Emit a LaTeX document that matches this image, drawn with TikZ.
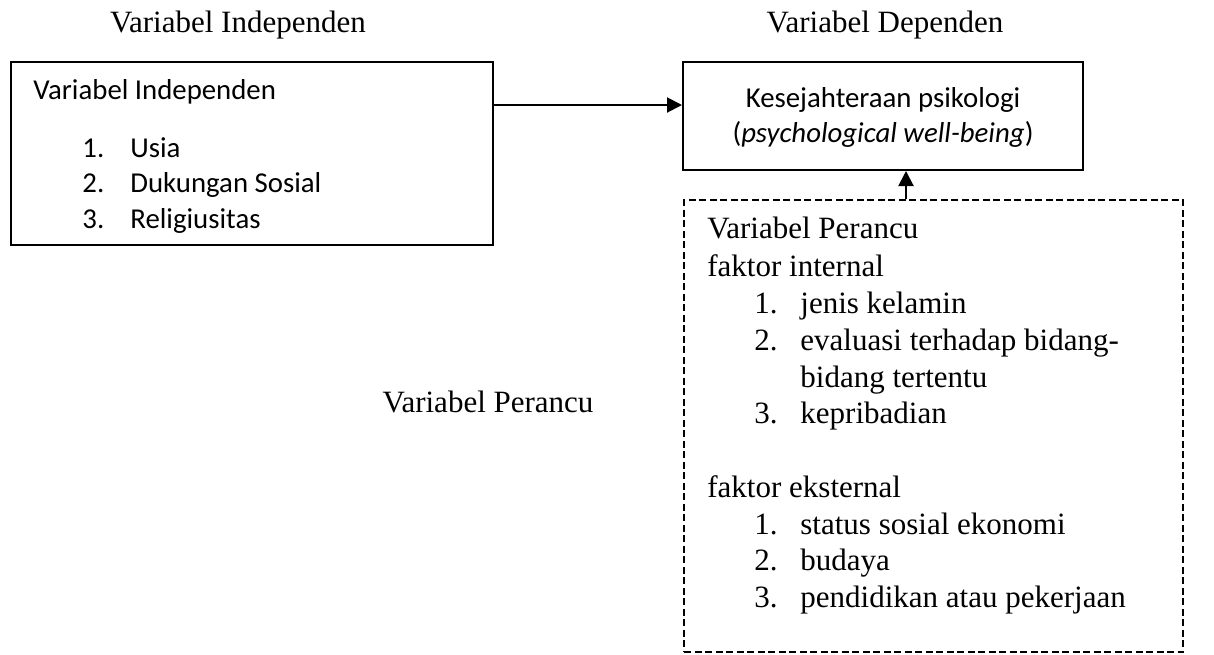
\documentclass[tikz,border=0pt]{standalone}
\usepackage{fontspec}
\setmainfont{Liberation Serif}
\newfontfamily\calibri{Carlito}
\usetikzlibrary{arrows.meta}

\tikzset{
  box/.style = {draw, line width = 1pt, inner sep = 0pt},
  dbox/.style = {draw, line width = 1pt, inner sep = 0pt, dash pattern = on 3.5pt off 1.75pt},
  serif/.style = {inner sep = 0pt, anchor = base west, font = \fontsize{15.5}{18.5}\selectfont},
  cal/.style = {inner sep = 0pt, anchor = base west, font = \calibri\fontsize{14.4}{18}\selectfont},
  link/.style = {line width = 1pt, -{Triangle[length = 7.5pt, width = 7.5pt]}}
}

\begin{document}
\begin{tikzpicture}[x = 0.5pt, y = -0.5pt]
\useasboundingbox (0, 0) rectangle (1214, 654);
% headings
\node (hind) at (238, 32) [serif, anchor = base] {Variabel Independen};
\node (hdep) at (885, 32) [serif, anchor = base] {Variabel Dependen};
\node (hper) at (488, 412) [serif, anchor = base] {Variabel Perancu};
% boxes
\node (indep) at (252, 153.5) [box, minimum width = 241pt, minimum height = 91.5pt] {};
\node (dep) at (883, 116) [box, minimum width = 200pt, minimum height = 54pt] {};
\node (per) at (933.5, 426) [dbox, minimum width = 249.5pt, minimum height = 226pt] {};
% independen
\node (ititle) at (33, 99) [cal] {Variabel Independen};
\node (i1) at (82, 157) [cal] {1.};
\node (i1t) at (130, 157) [cal] {Usia};
\node (i2) at (82, 192.5) [cal] {2.};
\node (i2t) at (130, 192.5) [cal] {Dukungan Sosial};
\node (i3) at (82, 228) [cal] {3.};
\node (i3t) at (130, 228) [cal] {Religiusitas};
% dependen
\node (d1) at (883, 107) [cal, anchor = base] {Kesejahteraan psikologi};
\node (d2) at (883, 142) [cal, anchor = base] {(\textit{psychological well-being})};
% perancu
\node (ptitle) at (707, 238) [serif] {Variabel Perancu};
\node (pint) at (707, 276) [serif] {faktor internal};
\node (p1) at (754, 313) [serif] {1.};
\node (p1t) at (800, 313) [serif] {jenis kelamin};
\node (p2) at (754, 350) [serif] {2.};
\node (p2t) at (800, 350) [serif] {evaluasi terhadap bidang-};
\node (p2u) at (800, 387) [serif] {bidang tertentu};
\node (p3) at (754, 423) [serif] {3.};
\node (p3t) at (800, 423) [serif] {kepribadian};
\node (pext) at (707, 497) [serif] {faktor eksternal};
\node (q1) at (754, 534) [serif] {1.};
\node (q1t) at (800, 534) [serif] {status sosial ekonomi};
\node (q2) at (754, 570) [serif] {2.};
\node (q2t) at (800, 570) [serif] {budaya};
\node (q3) at (754, 607) [serif] {3.};
\node (q3t) at (800, 607) [serif] {pendidikan atau pekerjaan};
% arrows
\draw[link] (indep.east |- 0, 105) -- (dep.west |- 0, 105);
\draw[link] (per.north -| 906, 0) -- (dep.south -| 906, 0);
\end{tikzpicture}
\end{document}
